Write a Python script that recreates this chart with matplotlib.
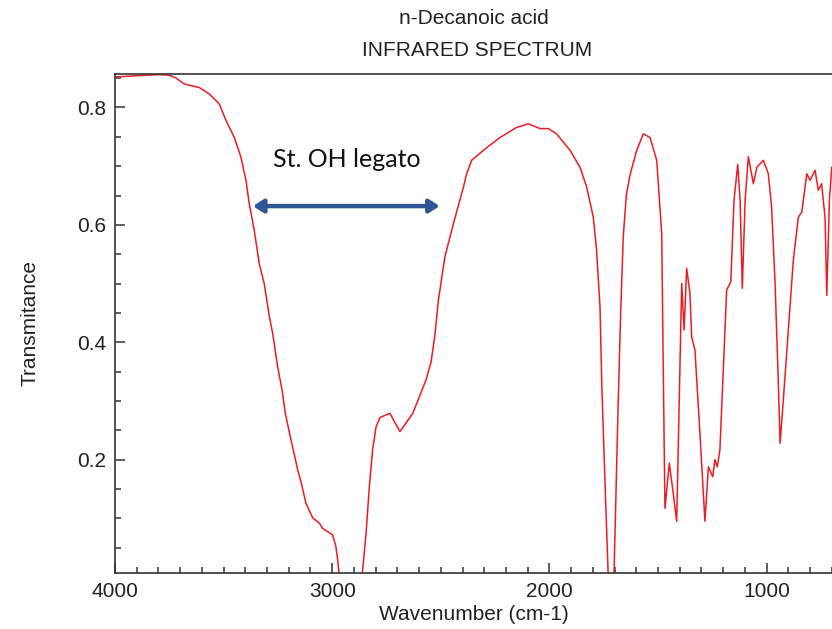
"""
n-Decanoic acid IR spectrum, redrawn with an annotation for the broad O-H stretch.
"""

import numpy as np
import matplotlib.pyplot as plt
from matplotlib.ticker import MultipleLocator

# values (wavenumber cm-1, transmittance)
wavenumber = [
    4000, 3900, 3800, 3750, 3719, 3681, 3612, 3566, 3520, 3489, 3451, 3420,
    3397, 3382, 3359, 3336, 3313, 3290, 3274, 3251, 3231, 3216, 3190, 3159,
    3144, 3121, 3090, 3059, 3044, 2998, 2983, 2975, 2967, 2940, 2900, 2863,
    2844, 2829, 2814, 2798, 2780, 2734, 2714, 2688, 2629, 2568, 2545, 2528,
    2511, 2481, 2442, 2396, 2381, 2358, 2304, 2227, 2151, 2097, 2043, 2005,
    1967, 1905, 1859, 1828, 1798, 1783, 1767, 1759, 1744, 1729, 1716, 1703,
    1683, 1672, 1660, 1646, 1629, 1598, 1568, 1537, 1506, 1483, 1476, 1468,
    1448, 1430, 1414, 1402, 1391, 1380, 1368, 1353, 1345, 1330, 1307, 1284,
    1268, 1248, 1238, 1227, 1215, 1199, 1184, 1165, 1150, 1133, 1122, 1112,
    1099, 1084, 1061, 1045, 1015, 992, 977, 961, 946, 938, 923, 896, 877,
    854, 838, 815, 800, 777, 762, 747, 731, 723, 711, 700,
]
transmittance = [
    0.852, 0.854, 0.856, 0.855, 0.850, 0.840, 0.834, 0.823, 0.806, 0.778,
    0.749, 0.715, 0.676, 0.636, 0.591, 0.534, 0.500, 0.445, 0.415, 0.358,
    0.319, 0.279, 0.234, 0.183, 0.163, 0.126, 0.101, 0.092, 0.083, 0.072,
    0.052, 0.030, 0.0, -0.02, -0.02, 0.0, 0.075, 0.154, 0.217, 0.256,
    0.272, 0.279, 0.265, 0.248, 0.279, 0.336, 0.366, 0.410, 0.472, 0.546,
    0.602, 0.664, 0.687, 0.710, 0.727, 0.749, 0.766, 0.772, 0.764, 0.764,
    0.755, 0.727, 0.698, 0.664, 0.613, 0.557, 0.460, 0.330, 0.160, 0.0,
    -0.03, 0.0, 0.302, 0.449, 0.580, 0.650, 0.685, 0.727, 0.755, 0.749,
    0.710, 0.585, 0.358, 0.117, 0.194, 0.143, 0.095, 0.302, 0.500, 0.421,
    0.526, 0.483, 0.409, 0.387, 0.245, 0.095, 0.188, 0.171, 0.200, 0.188,
    0.217, 0.358, 0.489, 0.503, 0.642, 0.703, 0.642, 0.492, 0.642, 0.716,
    0.670, 0.698, 0.710, 0.687, 0.630, 0.500, 0.330, 0.228, 0.302, 0.443,
    0.540, 0.613, 0.622, 0.687, 0.676, 0.693, 0.659, 0.670, 0.613, 0.480,
    0.642, 0.698,
]

title_name = "n-Decanoic acid"
title_kind = "INFRARED SPECTRUM"
band_label = "St. OH legato"
band_span = (3365, 2505)   # wavenumber ends of the double arrow
band_level = 0.632
label_pos = (2935, 0.712)

plt.rcParams["font.family"] = ["Liberation Sans", "DejaVu Sans"]

fig = plt.figure(figsize=(8.32, 6.29), dpi=100)
ax = fig.add_axes([115 / 832, 56 / 629, 1 - 115 / 832, 499 / 629])

ax.plot(wavenumber, transmittance, color="#ec1c24", lw=1.1)
ax.set_xlim(4000, 699)
ax.set_ylim(0.007, 0.857)

ax.xaxis.set_major_locator(MultipleLocator(1000))
ax.xaxis.set_minor_locator(MultipleLocator(100))
ax.yaxis.set_major_locator(MultipleLocator(0.2))
ax.yaxis.set_minor_locator(MultipleLocator(0.05))
ax.set_yticks([0.2, 0.4, 0.6, 0.8])
ax.tick_params(which="both", direction="in", colors="#333333",
               labelcolor="#222222", width=1.1, labelsize=15)
ax.tick_params(which="major", length=7, pad=6.5)
ax.tick_params(which="minor", length=4)
for side in ("left", "bottom", "top"):
    ax.spines[side].set_color("#333333")
    ax.spines[side].set_linewidth(1.2)
ax.spines["right"].set_visible(False)

ax.set_xlabel("Wavenumber (cm-1)", fontsize=15, color="#222222", labelpad=3)
ax.set_ylabel("Transmitance", fontsize=15, color="#222222", labelpad=27)

fig.text(474 / 832, 1 - 18 / 629, title_name, ha="center", va="center",
         fontsize=15, color="#222222")
fig.text(477 / 832, 1 - 50 / 629, title_kind, ha="center", va="center",
         fontsize=15, color="#222222")

# double-headed blue arrow across the broad O-H band
ax.annotate("", xy=(band_span[1], band_level), xytext=(band_span[0], band_level),
            arrowprops=dict(arrowstyle="<|-|>,head_length=0.5,head_width=0.32",
                            lw=3.2, color="#2f5597", mutation_scale=12,
                            shrinkA=0, shrinkB=0))
ax.text(*label_pos, band_label, ha="center", va="center", fontsize=18,
        family=["Lato", "DejaVu Sans"], color="#111111")

fig.savefig("out.png", dpi=100)
